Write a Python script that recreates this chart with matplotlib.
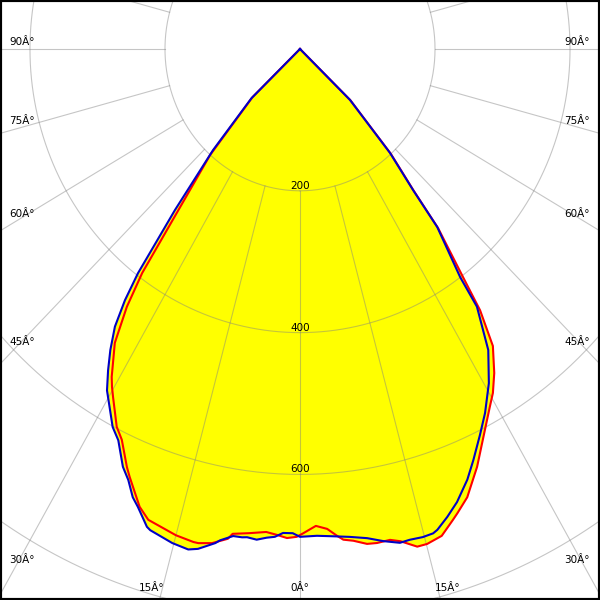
import numpy as np
import matplotlib
matplotlib.use('Agg')
import matplotlib.pyplot as plt

# C0-C180 plane (red), angle in degrees from nadir, intensity in cd/klm
c0_angle = [-50, -46, -41.7, -36.5, -35.2, -33.5, -31.1, -30.3, -29.4, -27.0, -25.6,
            -23.5, -22.7, -20.2, -18.7, -15.0, -12.8, -12.2, -10.6, -8.8, -8.3, -6.3,
            -4.2, -2.9, -1.6, -0.4, 0.4, 2.0, 3.4, 4.6, 5.3, 6.5, 8.1, 9.3, 10.9, 12.1,
            13.9, 15.1, 17.0, 18.8, 19.6, 21.4, 24.0, 26.4, 29.1, 30.5, 32.2, 34.3,
            35.9, 36.9, 39.0, 40.1, 42.3, 45.9, 50]
c0_value = [0, 98, 200, 393, 445, 497, 540, 552, 564, 598, 611,
            643, 654, 688, 701, 710, 713, 713, 709, 699, 691, 687,
            683, 686, 690, 688, 683, 673, 678, 689, 695, 698, 705, 706, 705, 710,
            723, 723, 718, 702, 695, 679, 645, 611, 578, 563, 540, 507,
            455, 402, 325, 262, 200, 104, 0]

# C90-C270 plane (blue)
c90_angle = [-50, -46, -42.1, -39.2, -37.2, -36.2, -35.0, -33.5, -32.1, -30.7, -27.5,
             -26.0, -24.0, -22.7, -21.4, -20.4, -18.6, -18.1, -15.2, -13.2, -12.1,
             -10.2, -9.7, -8.2, -7.1, -6.5, -5.3, -4.1, -3.1, -2.1, -0.9, 0, 2.1, 4.1,
             6.1, 8.2, 10.1, 12.0, 13.2, 14.8, 16.1, 16.7, 18.3, 20.0, 22.2, 23.9,
             26.1, 28.1, 30.7, 33.3, 35.8, 36.4, 39.0, 40.1, 42.3, 45.9, 50]
c90_value = [0, 100, 192, 293, 397, 439, 478, 509, 535, 560, 601,
             614, 645, 659, 679, 689, 711, 714, 722, 725, 721,
             708, 703, 694, 694, 693, 695, 691, 689, 683, 683, 688, 687, 689,
             692, 697, 705, 712, 711, 712, 711, 708, 695, 680, 656, 634,
             606, 582, 548, 508, 448, 400, 323, 260, 198, 103, 0]

ring_values = [200, 400, 600]
ring_grid = [200, 400, 600, 800, 1000, 1200]
spoke_angles = list(range(0, 360, 15))
left_labels = ['90Â°', '75Â°', '60Â°', '45Â°', '30Â°']
bottom_labels = ['15Â°', '0Â°', '15Â°']


def to_xy(ang, val):
    a = np.radians(np.asarray(ang, dtype=float))
    v = np.asarray(val, dtype=float)
    return v * np.sin(a), -v * np.cos(a)


fig = plt.figure(figsize=(6, 6), dpi=100)
ax = fig.add_axes([0, 0, 1, 1])
ax.set_xlim(-444.4, 444.4)
ax.set_ylim(-777.1, 69.1)
ax.set_xticks([])
ax.set_yticks([])
for sp in ax.spines.values():
    sp.set_linewidth(3)
    sp.set_color('black')

x0, y0 = to_xy(c0_angle, c0_value)
x90, y90 = to_xy(c90_angle, c90_value)
ax.fill(x0, y0, color='#ffff00', zorder=1, lw=0)
ax.fill(x90, y90, color='#ffff00', zorder=1, lw=0)

# grid
t = np.linspace(0, 360, 721)
for R in ring_grid:
    gx, gy = to_xy(t, np.full_like(t, R))
    ax.plot(gx, gy, color='#808080', alpha=0.45, lw=0.8, zorder=2)
for a in spoke_angles:
    sx, sy = to_xy([a, a], [200, 1400])
    ax.plot(sx, sy, color='#808080', alpha=0.45, lw=0.8, zorder=2)

ax.plot(x0, y0, color='#ff0000', lw=1.5, zorder=3)
ax.plot(x90, y90, color='#0000c8', lw=1.5, zorder=4)

for R in ring_values:
    ax.annotate(str(R), xy=(0, -R), xytext=(0, 5), textcoords='offset pixels',
                ha='center', va='center', fontsize=7.5, zorder=5)

# angle labels around the edge (pixel rows)
side_rows = [42, 121, 214, 342, 560]
for lab, row in zip(left_labels, side_rows):
    fig.text(9 / 600, 1 - row / 600, lab, ha='left', va='center', fontsize=7.5)
    fig.text(590 / 600, 1 - row / 600, lab, ha='right', va='center', fontsize=7.5)
for lab, col in zip(bottom_labels, [151.5, 299.5, 447.5]):
    fig.text(col / 600, 1 - 588 / 600, lab, ha='center', va='center', fontsize=7.5)

fig.savefig('out.png', dpi=100)
